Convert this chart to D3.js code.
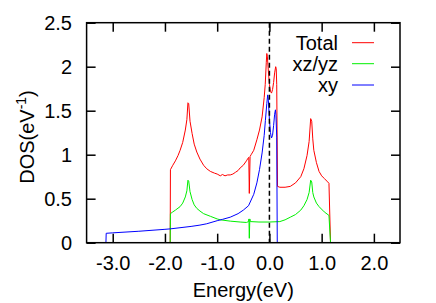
<!DOCTYPE html>
<html><head><meta charset="utf-8">
<script src="https://cdn.jsdelivr.net/npm/d3@7"></script>
<style>
html,body{margin:0;padding:0;background:#fff;}
text{font-family:"Liberation Sans",Arial,Helvetica,sans-serif;}
</style></head>
<body><svg id="c" width="436" height="303"></svg>
<script>
// ---- data ----
const seriesNames = ["Total", "xz/yz", "xy"];
const seriesColors = ["#ff0000", "#00f000", "#0000ff"];

const totalE = [-1.90,-1.895,-1.85,-1.80,-1.75,-1.71,-1.66,-1.61,-1.58,-1.56,-1.545,-1.52,-1.48,-1.44,-1.39,-1.33,-1.26,-1.20,-1.13,-1.05,-1.00,-0.94,-0.90,-0.85,-0.80,-0.75,-0.70,-0.65,-0.60,-0.56,-0.50,-0.44,-0.41,-0.395,-0.385,-0.37,-0.35,-0.30,-0.24,-0.19,-0.14,-0.10,-0.08,-0.06,-0.05,-0.04,-0.02,0.00,0.02,0.04,0.06,0.08,0.10,0.12,0.13,0.14,0.155,0.20,0.30,0.40,0.50,0.60,0.66,0.72,0.76,0.79,0.81,0.83,0.85,0.90,0.95,1.00,1.05,1.10,1.14,1.17];
const totalDOS = [0,0.83,0.88,0.93,0.99,1.05,1.14,1.28,1.40,1.59,1.58,1.38,1.24,1.12,1.03,0.95,0.88,0.84,0.81,0.79,0.78,0.76,0.775,0.76,0.77,0.77,0.78,0.80,0.82,0.85,0.88,0.93,0.96,0.97,0.56,0.98,1.00,1.05,1.17,1.28,1.43,1.65,1.80,2.05,2.15,2.12,1.95,1.80,1.72,1.70,1.74,1.82,1.93,2.00,1.98,1.80,0.64,0.63,0.63,0.64,0.68,0.75,0.84,0.99,1.15,1.41,1.38,1.18,1.05,0.91,0.81,0.76,0.73,0.70,0.675,0];

const xzE = [-1.90,-1.895,-1.85,-1.80,-1.71,-1.66,-1.61,-1.58,-1.56,-1.545,-1.52,-1.48,-1.44,-1.39,-1.33,-1.26,-1.13,-1.00,-0.94,-0.75,-0.56,-0.44,-0.40,-0.392,-0.385,-0.375,-0.365,-0.20,0.00,0.20,0.30,0.40,0.50,0.60,0.66,0.72,0.76,0.79,0.81,0.83,0.85,0.90,0.95,1.05,1.14,1.17];
const xzDOS = [0,0.33,0.35,0.37,0.41,0.45,0.52,0.59,0.71,0.70,0.58,0.49,0.43,0.39,0.36,0.33,0.30,0.27,0.26,0.245,0.235,0.23,0.24,0.27,0.05,0.27,0.24,0.235,0.235,0.24,0.26,0.29,0.32,0.37,0.42,0.49,0.57,0.71,0.69,0.57,0.52,0.45,0.41,0.35,0.31,0];

const xyE = [-3.13,-3.125,-3.00,-2.50,-2.00,-1.90,-1.50,-1.33,-1.20,-1.00,-0.90,-0.75,-0.60,-0.50,-0.40,-0.30,-0.24,-0.19,-0.14,-0.10,-0.077,-0.05,-0.033,-0.02,0.00,0.02,0.04,0.06,0.08,0.10,0.115,0.125,0.14,0.15];
const xyDOS = [0,0.107,0.112,0.13,0.152,0.157,0.185,0.20,0.215,0.25,0.265,0.29,0.33,0.37,0.42,0.55,0.68,0.83,1.02,1.22,1.39,1.58,1.68,1.62,1.40,1.25,1.19,1.22,1.33,1.46,1.51,1.45,1.20,0];

const xTicks = [-3, -2, -1, 0, 1, 2];
const xTickLabels = ["-3.0", "-2.0", "-1.0", "0.0", "1.0", "2.0"];
const yTicks = [0, 0.5, 1, 1.5, 2, 2.5];
const yTickLabels = ["0", "0.5", "1", "1.5", "2", "2.5"];
const xTitle = "Energy(eV)";

// ---- chart ----
const svg = d3.select("#c");
const L = 86.6, R = 400, T = 22.7, B = 242.7;
const x = d3.scaleLinear().domain([-3.5, 2.5]).range([L, R]);
const y = d3.scaleLinear().domain([0, 2.5]).range([B, T]);

const series = [
  {E: totalE, V: totalDOS},
  {E: xzE, V: xzDOS},
  {E: xyE, V: xyDOS}
];
const line = d3.line().x(d => x(d[0])).y(d => y(d[1]));

series.forEach((s, i) => {
  const pts = s.E.map((e, j) => [e, s.V[j]]);
  svg.append("path").attr("d", line(pts)).attr("fill", "none")
    .attr("stroke", seriesColors[i]).attr("stroke-width", 1);
});

// dashed Fermi line
svg.append("line").attr("x1", x(0)).attr("x2", x(0)).attr("y1", T).attr("y2", B)
  .attr("stroke", "#000").attr("stroke-width", 1.5).attr("stroke-dasharray", "5,3");

// axes (ticks inward on all sides)
const fs = "20px";
const gB = svg.append("g").attr("transform", `translate(0,${B})`)
  .call(d3.axisBottom(x).tickValues(xTicks).tickFormat((d, i) => xTickLabels[i]).tickSize(-9).tickSizeOuter(0).tickPadding(13));
const gT = svg.append("g").attr("transform", `translate(0,${T})`)
  .call(d3.axisTop(x).tickValues(xTicks).tickFormat("").tickSize(-9).tickSizeOuter(0));
const gLft = svg.append("g").attr("transform", `translate(${L},0)`)
  .call(d3.axisLeft(y).tickValues(yTicks).tickFormat((d, i) => yTickLabels[i]).tickSize(-9).tickSizeOuter(0).tickPadding(14.6));
const gR = svg.append("g").attr("transform", `translate(${R},0)`)
  .call(d3.axisRight(y).tickValues(yTicks).tickFormat("").tickSize(-9).tickSizeOuter(0));
[gB, gT, gLft, gR].forEach(g => {
  g.select(".domain").remove();
  g.selectAll(".tick line").attr("stroke", "#000").attr("stroke-width", 1.5);
  g.selectAll(".tick text").attr("fill", "#000").style("font-size", fs)
    .style("font-family", '"Liberation Sans",Arial,sans-serif');
});
svg.append("rect").attr("x", L).attr("y", T).attr("width", R - L).attr("height", B - T)
  .attr("fill", "none").attr("stroke", "#000").attr("stroke-width", 1.5);

// axis titles
svg.append("text").attr("x", (L + R) / 2).attr("y", 297).attr("text-anchor", "middle")
  .style("font-size", fs).text(xTitle);
const yt = svg.append("text").attr("transform", "translate(34,137) rotate(-90)")
  .attr("text-anchor", "middle").style("font-size", fs);
yt.append("tspan").text("DOS(eV");
yt.append("tspan").attr("dy", -8).style("font-size", "14px").text("-1");
yt.append("tspan").attr("dy", 8).text(")");

// legend
const legY = [42.7, 63.7, 85];
seriesNames.forEach((n, i) => {
  svg.append("text").attr("x", 338).attr("y", legY[i] + 7).attr("text-anchor", "end")
    .style("font-size", fs).text(n);
  svg.append("line").attr("x1", 352).attr("x2", 374).attr("y1", legY[i]).attr("y2", legY[i])
    .attr("stroke", seriesColors[i]).attr("stroke-width", 1);
});
</script></body></html>
